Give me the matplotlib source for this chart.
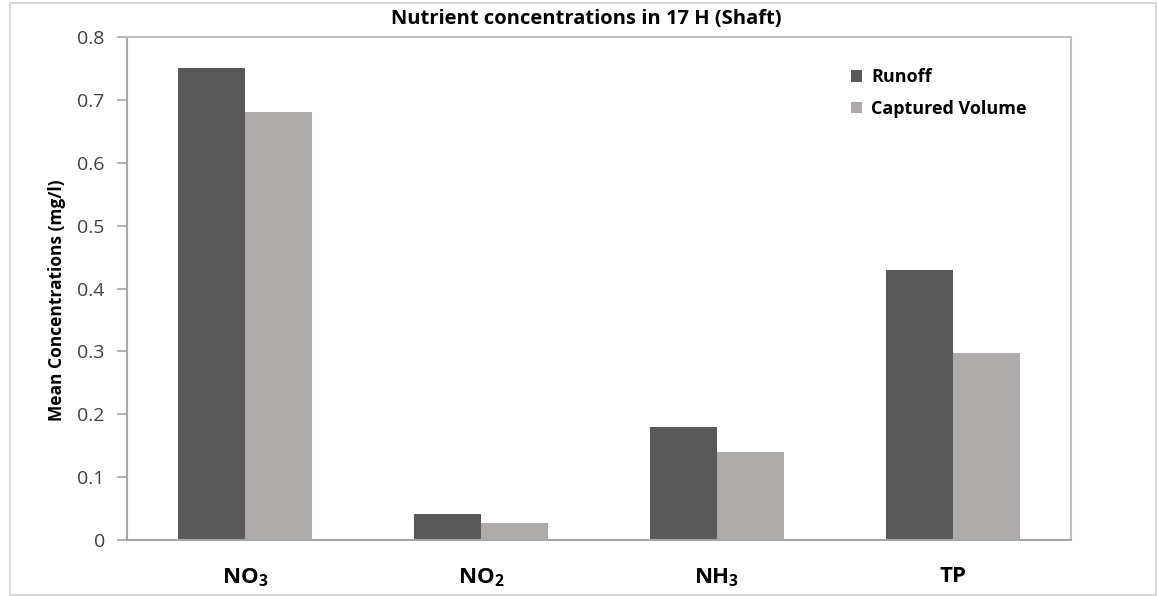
import matplotlib
matplotlib.use("Agg")
import matplotlib.pyplot as plt
from matplotlib.patches import Rectangle
import numpy as np

# Data
categories = [r"$\mathbf{NO}_{\mathbf{3}}$", r"$\mathbf{NO}_{\mathbf{2}}$",
              r"$\mathbf{NH}_{\mathbf{3}}$", r"$\mathbf{TP}$"]
runoff = [0.75, 0.042, 0.18, 0.43]
captured = [0.68, 0.027, 0.14, 0.297]
series_names = ["Runoff", "Captured Volume"]
yticks = [0, 0.1, 0.2, 0.3, 0.4, 0.5, 0.6, 0.7, 0.8]
ytick_labels = ["0", "0.1", "0.2", "0.3", "0.4", "0.5", "0.6", "0.7", "0.8"]

plt.rcParams["font.family"] = ["Open Sans", "DejaVu Sans"]
plt.rcParams["mathtext.fontset"] = "custom"
plt.rcParams["mathtext.bf"] = "Open Sans:bold"
plt.rcParams["mathtext.rm"] = "Open Sans"

W, H = 1158, 596
fig = plt.figure(figsize=(W / 100, H / 100), dpi=100)
ax = fig.add_axes([127 / W, 1 - 540 / H, (1071 - 127) / W, (540 - 37) / H])

# Outer chart border
fig.patches.append(Rectangle((10 / W, 1 - 595 / H), (1156 - 10) / W, (595 - 3) / H,
                             transform=fig.transFigure, fill=False,
                             edgecolor="#d9d9d9", linewidth=1.5))

x = np.arange(len(categories))
w = 0.284
dark = "#595959"
light = "#aeaaaa"
ax.bar(x - w / 2, runoff, width=w, color=dark, label=series_names[0])
ax.bar(x + w / 2, captured, width=w, color=light, label=series_names[1])

ax.set_xlim(-0.5, len(categories) - 0.5)
ax.set_ylim(0, 0.8)
ax.set_yticks(yticks)
ax.set_yticklabels(ytick_labels, fontsize=14, color="#404040")
ax.set_xticks(x)
ax.set_xticklabels(categories, fontsize=16)
ax.tick_params(axis="x", length=0, pad=19)
ax.tick_params(axis="y", length=7, color="#a6a6a6", width=1.2, pad=9)

for s in ax.spines.values():
    s.set_color("#bfbfbf")
    s.set_linewidth(1.5)
ax.spines["left"].set_color("#a6a6a6")
ax.spines["bottom"].set_color("#a6a6a6")

fig.text(57 / W, 1 - 300 / H, "Mean Concentrations (mg/l)", fontsize=12.5,
         fontweight="bold", rotation=90, ha="center", va="center")

fig.text(586 / W, 1 - 19 / H, "Nutrient concentrations in 17 H (Shaft)",
         fontsize=14.5, fontweight="bold", ha="center", va="center")

leg = ax.legend(loc="upper left", bbox_to_anchor=(0.75, 0.97), frameon=False,
                handlelength=0.6, handleheight=0.6, handletextpad=0.5,
                labelspacing=0.75, prop={"weight": "bold", "size": 13})

fig.savefig("out.png", dpi=100)
